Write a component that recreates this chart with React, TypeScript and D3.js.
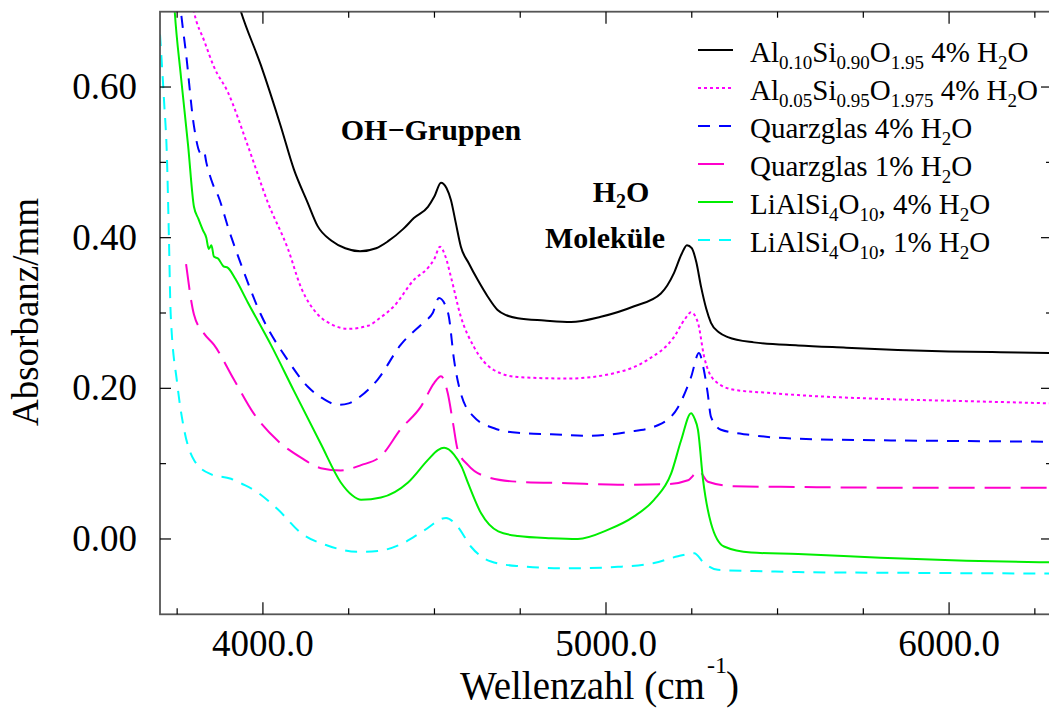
import React from 'react'
import * as d3 from 'd3'

// wavenumber / absorbance readings per sample
const al10X = [3910, 3936, 3994, 4052, 4090, 4130, 4160, 4200, 4240, 4283, 4330, 4364, 4410, 4440, 4481, 4500, 4519, 4535, 4548, 4562, 4577, 4600, 4626, 4655, 4684, 4710, 4743, 4820, 4898, 4985, 5082, 5160, 5198, 5220, 5236, 5250, 5263, 5277, 5292, 5306, 5330, 5355, 5431, 5560, 5700, 5850, 6000, 6150, 6300]
const al10Y = [0.74, 0.70, 0.629, 0.548, 0.491, 0.447, 0.415, 0.396, 0.386, 0.382, 0.386, 0.395, 0.412, 0.426, 0.441, 0.455, 0.473, 0.466, 0.45, 0.42, 0.388, 0.366, 0.344, 0.322, 0.304, 0.297, 0.293, 0.290, 0.288, 0.295, 0.309, 0.326, 0.353, 0.378, 0.390, 0.386, 0.368, 0.335, 0.306, 0.287, 0.274, 0.268, 0.261, 0.257, 0.254, 0.251, 0.249, 0.248, 0.247]

const al05X = [3780, 3799, 3830, 3857, 3898, 3956, 4015, 4073, 4111, 4160, 4200, 4248, 4306, 4340, 4382, 4440, 4481, 4500, 4516, 4532, 4548, 4577, 4615, 4674, 4743, 4889, 5023, 5122, 5198, 5230, 5248, 5268, 5286, 5315, 5373, 5472, 5560, 5800, 6050, 6300]
const al05Y = [0.75, 0.70, 0.66, 0.627, 0.593, 0.522, 0.446, 0.385, 0.334, 0.298, 0.285, 0.279, 0.283, 0.293, 0.309, 0.344, 0.36, 0.372, 0.388, 0.375, 0.348, 0.295, 0.255, 0.224, 0.215, 0.213, 0.220, 0.238, 0.268, 0.292, 0.301, 0.287, 0.242, 0.211, 0.198, 0.194, 0.191, 0.186, 0.183, 0.180]

const quarz4X = [3750, 3761, 3776, 3799, 3819, 3828, 3835, 3854, 3870, 3901, 3936, 3994, 4073, 4131, 4180, 4219, 4250, 4277, 4335, 4402, 4469, 4495, 4513, 4530, 4542, 4557, 4577, 4615, 4674, 4743, 4840, 4947, 5064, 5151, 5210, 5248, 5271, 5285, 5296, 5306, 5335, 5423, 5560, 5800, 6050, 6300]
const quarz4Y = [0.75, 0.70, 0.644, 0.548, 0.512, 0.515, 0.50, 0.471, 0.455, 0.410, 0.365, 0.298, 0.237, 0.202, 0.185, 0.178, 0.180, 0.187, 0.212, 0.258, 0.288, 0.300, 0.320, 0.312, 0.295, 0.238, 0.193, 0.162, 0.147, 0.141, 0.139, 0.137, 0.142, 0.151, 0.175, 0.215, 0.247, 0.225, 0.195, 0.162, 0.145, 0.138, 0.133, 0.131, 0.130, 0.129]

const quarz1X = [3776, 3799, 3828, 3857, 3915, 3974, 4044, 4111, 4169, 4227, 4286, 4344, 4402, 4461, 4499, 4519, 4539, 4554, 4568, 4598, 4656, 4743, 4889, 5035, 5181, 5239, 5271, 5297, 5373, 5560, 5900, 6300]
const quarz1Y = [0.365, 0.298, 0.273, 0.258, 0.212, 0.166, 0.130, 0.108, 0.094, 0.091, 0.098, 0.110, 0.146, 0.176, 0.207, 0.216, 0.193, 0.154, 0.118, 0.098, 0.082, 0.076, 0.074, 0.072, 0.073, 0.078, 0.090, 0.076, 0.070, 0.069, 0.068, 0.068]

const li4X = [3735, 3743, 3761, 3782, 3799, 3812, 3825, 3835, 3842, 3850, 3857, 3870, 3885, 3898, 3920, 3956, 4023, 4090, 4169, 4227, 4260, 4286, 4344, 4423, 4481, 4510, 4528, 4557, 4580, 4598, 4636, 4686, 4743, 4840, 4918, 5005, 5082, 5140, 5190, 5219, 5248, 5258, 5268, 5283, 5306, 5344, 5423, 5560, 5800, 6050, 6300]
const li4Y = [0.76, 0.70, 0.614, 0.522, 0.441, 0.425, 0.41, 0.40, 0.385, 0.39, 0.375, 0.372, 0.362, 0.36, 0.345, 0.314, 0.258, 0.197, 0.126, 0.075, 0.058, 0.052, 0.055, 0.075, 0.105, 0.118, 0.121, 0.112, 0.095, 0.074, 0.034, 0.010, 0.004, 0.001, 0.000, 0.012, 0.030, 0.052, 0.087, 0.131, 0.167, 0.160, 0.145, 0.078, 0.021, -0.010, -0.018, -0.020, -0.025, -0.029, -0.031]

const li1X = [3700, 3712, 3720, 3726, 3731, 3750, 3770, 3799, 3848, 3907, 3940, 3974, 4044, 4111, 4190, 4277, 4335, 4402, 4469, 4534, 4568, 4606, 4665, 4743, 4889, 5035, 5140, 5210, 5257, 5286, 5326, 5472, 5560, 5900, 6300]
const li1Y = [0.67, 0.58, 0.51, 0.40, 0.30, 0.207, 0.146, 0.105, 0.086, 0.080, 0.073, 0.065, 0.039, 0.008, -0.009, -0.017, -0.016, -0.007, 0.011, 0.028, 0.016, -0.010, -0.030, -0.036, -0.039, -0.037, -0.032, -0.023, -0.019, -0.032, -0.041, -0.043, -0.044, -0.045, -0.046]

// legend labels: [text, isSubscript]
const legendLabels: [string, boolean][][] = [
  [['Al', false], ['0.10', true], ['Si', false], ['0.90', true], ['O', false], ['1.95', true], [' 4% H', false], ['2', true], ['O', false]],
  [['Al', false], ['0.05', true], ['Si', false], ['0.95', true], ['O', false], ['1.975', true], [' 4% H', false], ['2', true], ['O', false]],
  [['Quarzglas 4% H', false], ['2', true], ['O', false]],
  [['Quarzglas 1% H', false], ['2', true], ['O', false]],
  [['LiAlSi', false], ['4', true], ['O', false], ['10', true], [', 4% H', false], ['2', true], ['O', false]],
  [['LiAlSi', false], ['4', true], ['O', false], ['10', true], [', 1% H', false], ['2', true], ['O', false]],
]

const xMajorTicks = [4000, 5000, 6000]
const xMinorTicks = [3750, 4250, 4500, 4750, 5250, 5500, 5750, 6250]
const yMajorTicks = [0, 0.2, 0.4, 0.6]
const yMinorTicks = [0.1, 0.3, 0.5]

const series = [
  { xs: al10X, ys: al10Y, color: '#000000', dash: 'none' },
  { xs: al05X, ys: al05Y, color: '#ff00ff', dash: '3,3' },
  { xs: quarz4X, ys: quarz4Y, color: '#0000ff', dash: '12,9' },
  { xs: quarz1X, ys: quarz1Y, color: '#ff00cc', dash: '26,10' },
  { xs: li4X, ys: li4Y, color: '#00ee00', dash: 'none' },
  { xs: li1X, ys: li1Y, color: '#00ffff', dash: '12,9' },
]

const FONT = '"Liberation Serif", "Times New Roman", serif'

function Rich({ parts, x, y, size, subSize, subShift, anchor = 'start', weight = 'normal' }: any) {
  let shift = 0
  return (
    <text x={x} y={y} fontSize={size} fontFamily={FONT} fontWeight={weight} textAnchor={anchor} style={{ whiteSpace: 'pre' }}>
      {parts.map(([t, sub]: [string, boolean], i: number) => {
        const target = sub ? subShift : 0
        const dy = target - shift
        shift = target
        return <tspan key={i} dy={dy} fontSize={sub ? subSize : size}>{t}</tspan>
      })}
    </text>
  )
}

export default function App() {
  const width = 1049
  const height = 719
  const margin = { top: 11.7, right: -3, bottom: 104.7, left: 160 }

  const x = d3.scaleLinear().domain([3700, 6300]).range([margin.left, width - margin.right])
  const y = d3.scaleLinear().domain([-0.1, 0.7]).range([height - margin.bottom, margin.top])

  const line = d3.line<[number, number]>()
    .x(d => x(d[0]))
    .y(d => y(d[1]))
    .curve(d3.curveMonotoneX)

  const x0 = x(3700), x1 = x(6300), y0 = y(-0.1), y1 = y(0.7)

  return (
    <svg width={width} height={height} style={{ position: 'absolute', left: 0, top: 0, background: '#fff' }}>
      <defs>
        <clipPath id="plot">
          <rect x={x0} y={y1} width={x1 - x0} height={y0 - y1} />
        </clipPath>
      </defs>

      <g clipPath="url(#plot)">
        {series.map((s, i) => (
          <path key={i}
            d={line(s.xs.map((v, j) => [v, s.ys[j]] as [number, number])) || ''}
            fill="none" stroke={s.color} strokeWidth={2}
            strokeDasharray={s.dash} strokeLinejoin="round" />
        ))}
      </g>

      {/* frame */}
      <rect x={x0} y={y1} width={x1 - x0} height={y0 - y1} fill="none" stroke="#555" strokeWidth={1.8} />

      {/* ticks, all pointing inward */}
      <g stroke="#000" strokeWidth={1.2}>
        {xMajorTicks.map(t => (
          <g key={'xM' + t}>
            <line x1={x(t)} x2={x(t)} y1={y0} y2={y0 - 12} />
            <line x1={x(t)} x2={x(t)} y1={y1} y2={y1 + 12} />
          </g>
        ))}
        {xMinorTicks.map(t => (
          <g key={'xm' + t}>
            <line x1={x(t)} x2={x(t)} y1={y0} y2={y0 - 6} />
            <line x1={x(t)} x2={x(t)} y1={y1} y2={y1 + 6} />
          </g>
        ))}
        {yMajorTicks.map(t => (
          <g key={'yM' + t}>
            <line x1={x0} x2={x0 + 11} y1={y(t)} y2={y(t)} />
            <line x1={x1} x2={x1 - 11} y1={y(t)} y2={y(t)} />
          </g>
        ))}
        {yMinorTicks.map(t => (
          <g key={'ym' + t}>
            <line x1={x0} x2={x0 + 6} y1={y(t)} y2={y(t)} />
            <line x1={x1} x2={x1 - 6} y1={y(t)} y2={y(t)} />
          </g>
        ))}
      </g>

      {/* tick labels */}
      <g fontFamily={FONT} fill="#000">
        {yMajorTicks.map(t => (
          <text key={'yl' + t} x={137} y={y(t) + 12} fontSize={37} textAnchor="end">{d3.format('.2f')(t)}</text>
        ))}
        {xMajorTicks.map(t => (
          <text key={'xl' + t} x={x(t)} y={656} fontSize={37} textAnchor="middle">{d3.format('.1f')(t)}</text>
        ))}
      </g>

      {/* axis titles */}
      <text transform="translate(38,312) rotate(-90)" fontFamily={FONT} fontSize={37} textAnchor="middle">Absorbanz/mm</text>
      <text x={460} y={699} fontFamily={FONT} fontSize={39}>Wellenzahl (cm</text>
      <text x={707} y={673} fontFamily={FONT} fontSize={24}>-1</text>
      <text x={726} y={699} fontFamily={FONT} fontSize={39}>)</text>

      {/* annotations */}
      <text x={431} y={140} fontFamily={FONT} fontSize={30} fontWeight="bold" textAnchor="middle">OH−Gruppen</text>
      <Rich parts={[['H', false], ['2', true], ['O', false]]} x={621} y={202} size={30} subSize={20} subShift={6} anchor="middle" weight="bold" />
      <text x={605} y={248} fontFamily={FONT} fontSize={30} fontWeight="bold" textAnchor="middle">Moleküle</text>

      {/* legend */}
      {series.map((s, i) => {
        const by = 62 + 38 * i
        return (
          <g key={'lg' + i}>
            <line x1={698} x2={733} y1={by - 12} y2={by - 12} stroke={s.color} strokeWidth={2} strokeDasharray={s.dash} />
            <Rich parts={legendLabels[i]} x={750} y={by} size={29} subSize={19} subShift={7} />
          </g>
        )
      })}
    </svg>
  )
}
